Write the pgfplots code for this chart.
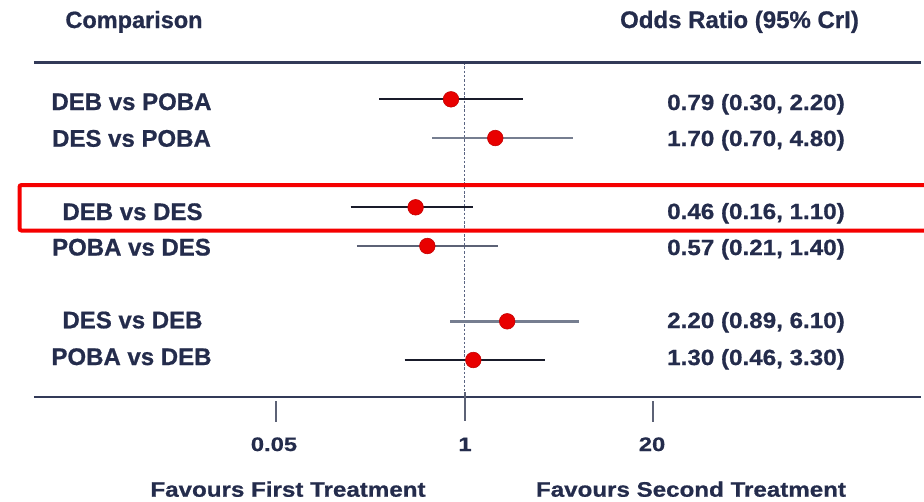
\documentclass[border=0pt]{standalone}
\usepackage{pgfplots}
\usepackage{pgfplotstable}
\pgfplotsset{compat=1.18}
\usepackage{fontspec}
\setmainfont{Liberation Sans}
\newfontfamily\fA{Liberation Sans}[BoldFeatures={FakeBold=0.8}]
\newfontfamily\fB{Liberation Sans}[FakeStretch=1.1, BoldFeatures={FakeBold=0.8}]
\newfontfamily\fC{Liberation Sans}[FakeStretch=1.15, BoldFeatures={FakeBold=0.8}]
\newfontfamily\fD{Liberation Sans}[FakeStretch=1.22, BoldFeatures={FakeBold=0.8}]
\definecolor{navy}{RGB}{36,44,76}
\definecolor{axisline}{RGB}{50,58,88}
\definecolor{cidark}{RGB}{25,27,42}
\definecolor{cigray}{RGB}{118,126,144}
\definecolor{cimid}{RGB}{92,98,118}
\definecolor{dotred}{RGB}{232,0,0}
\definecolor{boxred}{RGB}{245,0,0}
\definecolor{refline}{RGB}{90,100,130}

\pgfplotstableread{
row y est lo hi
1 99.3 0.807 0.258 2.52
2 138 1.63 0.60 5.57
3 207.3 0.46 0.164 1.14
4 246 0.554 0.181 1.69
5 321.3 1.97 0.80 6.19
6 360 1.15 0.387 3.61
}\forestdata

\begin{document}
\begin{tikzpicture}[x=1pt,y=1pt]
\path[use as bounding box] (0,0) rectangle (924,-501);
\begin{axis}[
  at={(34pt,-398pt)}, anchor=south west,
  width=887pt, height=336pt, scale only axis,
  xmode=log, xmin=0.001074, xmax=1407,
  ymin=62, ymax=398, y dir=reverse,
  axis line style={draw=none},
  xtick=\empty, ytick=\empty,
  clip=false,
]
% reference line at OR = 1
\draw[refline, line width=1.8pt, dash pattern=on 2.5pt off 1.8pt] (axis cs:1,62) -- (axis cs:1,397);
% horizontal rules
\draw[axisline, line width=2.2pt] (axis cs:0.001074,62.5) -- (axis cs:1407,62.5);
\draw[axisline, line width=2.2pt] (axis cs:0.001074,397) -- (axis cs:1407,397);
% ticks
\draw[cimid, line width=2pt] (axis cs:0.05,401) -- (axis cs:0.05,422);
\draw[cimid, line width=2pt] (axis cs:1,392) -- (axis cs:1,421);
\draw[cimid, line width=2pt] (axis cs:20,401) -- (axis cs:20,422);
% credible intervals
\addplot[cidark, line width=2.2pt] coordinates {(0.258,99.3) (2.52,99.3)};
\addplot[cigray, line width=2.8pt] coordinates {(0.60,138) (5.57,138)};
\addplot[cidark, line width=2.2pt] coordinates {(0.164,207.3) (1.14,207.3)};
\addplot[cimid, line width=2.6pt] coordinates {(0.181,246) (1.69,246)};
\addplot[cigray, line width=2.8pt] coordinates {(0.80,321.3) (6.19,321.3)};
\addplot[cidark, line width=2.2pt] coordinates {(0.387,360) (3.61,360)};
% point estimates
\addplot[only marks, mark=*, mark size=7.8pt, mark options={fill=dotred, draw=dotred!85!black, line width=0.6pt}] table[x=est, y=y] {\forestdata};
\end{axis}
% highlight box
\draw[boxred, line width=4pt, rounded corners=2pt] (19.5,-185) rectangle (960,-230.5);
% headers
\node[anchor=base, text=navy, font=\fA\fontsize{23.5}{28}\selectfont\bfseries] at (134,-28) {Comparison};
\node[anchor=base, text=navy, font=\fA\fontsize{24}{28}\selectfont\bfseries] at (739.5,-28) {Odds Ratio (95\% CrI)};
% row labels
\begin{scope}[every node/.style={anchor=base, text=navy, font=\fA\fontsize{24}{28}\selectfont\bfseries}]
\node at (131.5,-110) {DEB vs POBA};
\node at (131.5,-146.7) {DES vs POBA};
\node at (132.5,-220) {DEB vs DES};
\node at (131.5,-255.5) {POBA vs DES};
\node at (132.5,-328.3) {DES vs DEB};
\node at (131.5,-365) {POBA vs DEB};
\end{scope}
\begin{scope}[every node/.style={anchor=base, text=navy, font=\fB\fontsize{22}{26}\selectfont\bfseries}]
\node at (756,-110) {0.79 (0.30, 2.20)};
\node at (756,-146) {1.70 (0.70, 4.80)};
\node at (756,-219) {0.46 (0.16, 1.10)};
\node at (756,-255) {0.57 (0.21, 1.40)};
\node at (756,-328) {2.20 (0.89, 6.10)};
\node at (756,-365) {1.30 (0.46, 3.30)};
\end{scope}
% tick labels
\begin{scope}[every node/.style={anchor=base, text=navy, font=\fD\fontsize{19.5}{22}\selectfont\bfseries}]
\node at (274,-451) {0.05};
\node at (465,-451) {1};
\node at (652,-451) {20};
\end{scope}
% favours
\node[anchor=base, text=navy, font=\fC\fontsize{21}{25}\selectfont\bfseries] at (288,-496.7) {Favours First Treatment};
\node[anchor=base, text=navy, font=\fC\fontsize{21}{25}\selectfont\bfseries] at (691,-496.7) {Favours Second Treatment};
\end{tikzpicture}
\end{document}
